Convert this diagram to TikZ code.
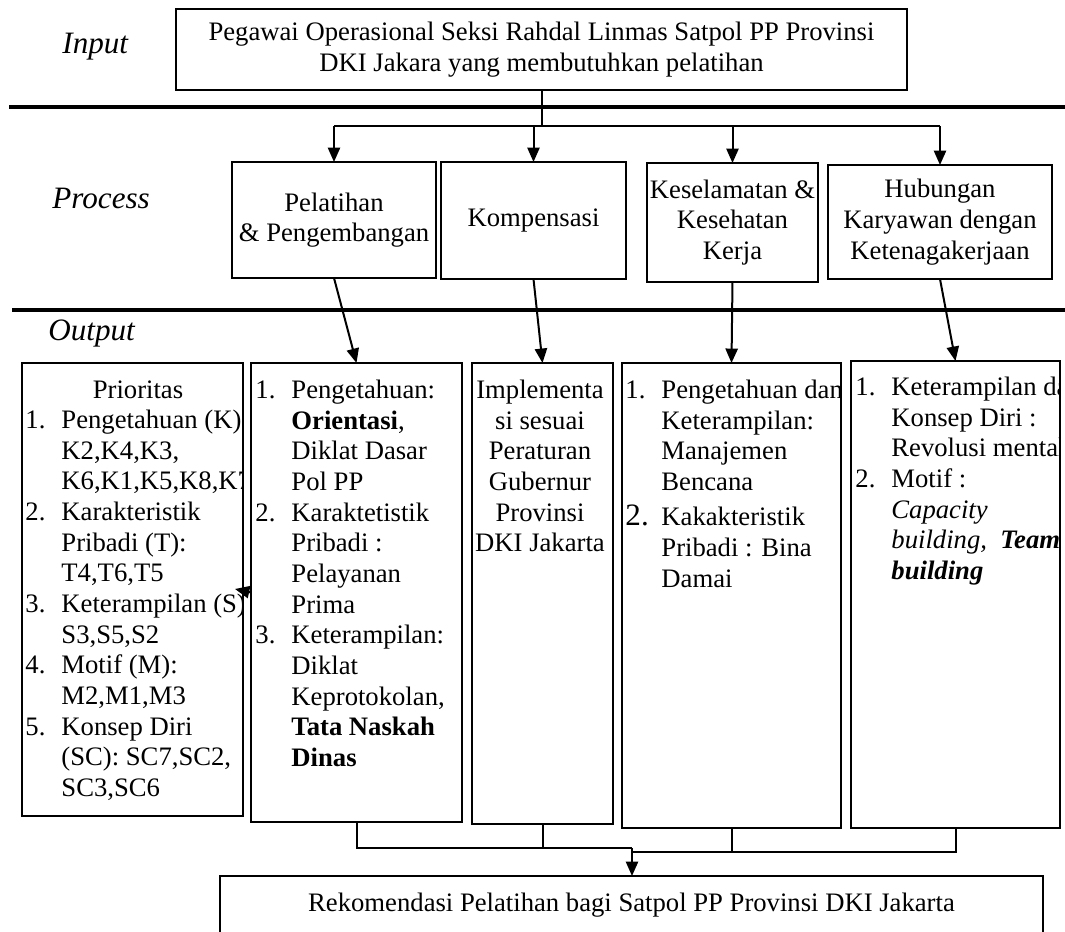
\documentclass[tikz,border=0pt]{standalone}
\usepackage{fontspec}
\setmainfont{Liberation Serif}
\usetikzlibrary{arrows.meta}
\tikzset{
  box/.style={draw, line width=0.6pt, inner sep=0pt, outer sep=0pt, align=center, font=\fontsize{12}{13.8}\selectfont},
  conn/.style={line width=0.9pt},
  arr/.style={conn, -{Triangle[length=6.5pt,width=5.5pt]}},
  sepline/.style={line width=1.8pt},
  lbl/.style={font=\fontsize{14}{16}\selectfont\itshape, anchor=base west, inner sep=0pt},
  listtext/.style={anchor=north west, inner sep=0pt, align=left, font=\fontsize{12}{13.8}\selectfont},
}
\newcommand{\nm}[1]{\makebox[16.2pt][l]{#1}}
\newcommand{\ind}{\hspace*{16.2pt}}
\begin{document}
\begin{tikzpicture}[x=0.45pt,y=-0.45pt]
\useasboundingbox (0,0) rectangle (1065,932);
\fill[white] (0,0) rectangle (1065,932);

% section labels
\node[lbl] (lin) at (62,53) {Input};
\node[lbl] (lpr) at (52,208) {Process};
\node[lbl] (lout) at (48,340) {Output};

% separators
\coordinate (s1a) at (9,107); \coordinate (s1b) at (1065,107);
\coordinate (s2a) at (12,310); \coordinate (s2b) at (1065,310);
\draw[sepline] (s1a) -- (s1b);
\draw[sepline] (s2a) -- (s2b);

% input box
\node[box, minimum width=328.95pt, minimum height=36.45pt] (top) at (541.5,49.5) {Pegawai Operasional Seksi Rahdal Linmas Satpol PP Provinsi\\DKI Jakara yang membutuhkan pelatihan};

% process boxes
\node[box, minimum width=91.8pt, minimum height=52.2pt] (p1) at (334,220) {Pelatihan\\\& Pengembangan};
\node[box, minimum width=83.25pt, minimum height=52.65pt] (p2) at (533.5,220.5) {Kompensasi};
\node[box, minimum width=76.95pt, minimum height=53.55pt] (p3) at (732.5,222.5) {Keselamatan \&\\Kesehatan\\Kerja};
\node[box, minimum width=100.8pt, minimum height=51.3pt] (p4) at (940,222) {Hubungan\\Karyawan dengan\\Ketenagakerjaan};

% top bus
\coordinate (bus) at (0,126);
\draw[conn] (top.south) -- (top.south |- bus);
\draw[conn] (p1.north |- bus) -- (p4.north |- bus);
\foreach \p in {p1,p2,p3,p4} \draw[arr] (\p.north |- bus) -- (\p.north);

% output boxes
\node[box, minimum width=99.45pt, minimum height=203.85pt] (o0) at (132.5,589.5) {};
\node[box, minimum width=94.95pt, minimum height=206.55pt] (o1) at (356.5,592.5) {};
\node[box, minimum width=63.45pt, minimum height=207.45pt] (o2) at (542.5,593.5) {};
\node[box, minimum width=98.55pt, minimum height=209.25pt] (o3) at (731.5,595.5) {};
\node[box, minimum width=94.05pt, minimum height=210.15pt] (o4) at (955.5,594.5) {};

\begin{scope}
\clip (o0.north west) rectangle (o0.south east);
\node[listtext, anchor=base] (o0h) at (138,398) {Prioritas};
\node[listtext] (o0t) at (25,406.5) {\strut\nm{1.}Pengetahuan (K):\\\ind K2,K4,K3,\\\ind K6,K1,K5,K8,K7\\\nm{2.}Karakteristik\\\ind Pribadi (T):\\\ind T4,T6,T5\\\nm{3.}Keterampilan (S):\\\ind S3,S5,S2\\\nm{4.}Motif (M):\\\ind M2,M1,M3\\\nm{5.}Konsep Diri\\\ind (SC): SC7,SC2,\\\ind SC3,SC6};
\end{scope}

\begin{scope}
\clip (o1.north west) rectangle (o1.south east);
\node[listtext] (o1t) at (255,376.5) {\strut\nm{1.}Pengetahuan:\\\ind\textbf{Orientasi},\\\ind Diklat Dasar\\\ind Pol PP\\\nm{2.}Karaktetistik\\\ind Pribadi :\\\ind Pelayanan\\\ind Prima\\\nm{3.}Keterampilan:\\\ind Diklat\\\ind Keprotokolan,\\\ind\textbf{Tata Naskah}\\\ind\textbf{Dinas}};
\end{scope}

\begin{scope}
\clip (o2.north west) rectangle (o2.south east);
\node[listtext, anchor=north, align=center] (o2t) at (540,376.5) {\strut Implementa\\si sesuai\\Peraturan\\Gubernur\\Provinsi\\DKI Jakarta};
\end{scope}

\begin{scope}
\clip (o3.north west) rectangle (o3.south east);
\node[listtext] (o3t) at (625,376.5) {\strut\nm{1.}Pengetahuan dan\\\ind Keterampilan:\\\ind Manajemen\\\ind Bencana\\[2.2pt]\nm{\fontsize{14}{13.8}\selectfont 2.}Kakakteristik\\\ind Pribadi : Bina\\\ind Damai};
\end{scope}

\begin{scope}
\clip (o4.north west) rectangle (o4.south east);
\node[listtext] (o4t) at (855,373.5) {\strut\nm{1.}Keterampilan dan\\\ind Konsep Diri :\\\ind Revolusi mental\\\nm{2.}Motif :\\\ind\textit{Capacity}\\\ind\textit{building,}\ \ \textbf{\textit{Team}}\\\ind\textbf{\textit{building}}};
\end{scope}

% process -> output
\draw[arr] (p1.south) -- (o1.north);
\draw[arr] (p2.south) -- (o2.north);
\draw[arr] (p3.south) -- (o3.north);
\draw[arr] (p4.south) -- (o4.north);

% small arrow between o1 and o0
\coordinate (sb) at (235,589);
\draw[arr] (o1.west) -- (sb);

% bottom box
\node[box, line width=0.5pt, minimum width=370.35pt, minimum height=26.1pt] (bot) at (631.5,905) {Rekomendasi Pelatihan bagi Satpol PP Provinsi DKI Jakarta};

% bottom bus
\coordinate (jl) at (632,848);
\coordinate (jr) at (632,852);
\draw[conn] (o1.south) |- (jl);
\draw[conn] (o2.south) -- (o2.south |- jl);
\draw[conn] (o3.south) |- (jr);
\draw[conn] (o4.south) |- (jr);
\draw[arr] (jl) -- (jl |- bot.north);
\end{tikzpicture}
\end{document}
